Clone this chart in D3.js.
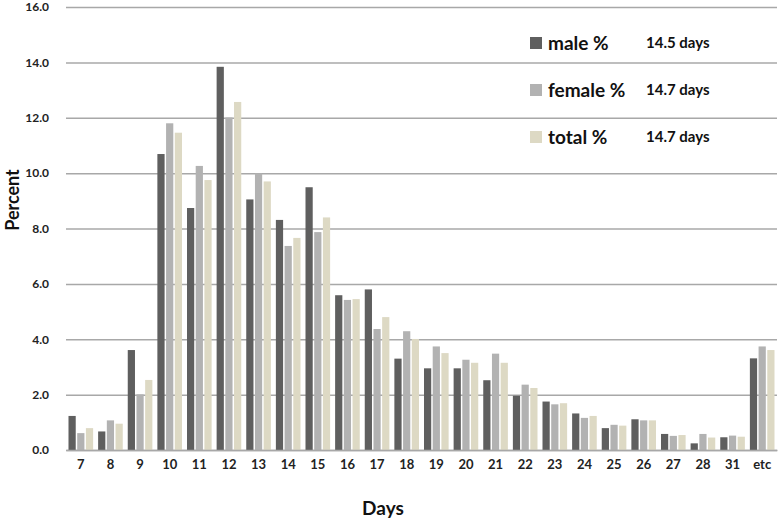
<!DOCTYPE html>
<html><head><meta charset="utf-8">
<script src="https://cdn.jsdelivr.net/npm/d3@7"></script>
<style>
html,body{margin:0;padding:0;background:#fff;}
svg{display:block;font-family:Lato,"Open Sans",sans-serif;}
</style></head>
<body><svg id="c" width="781" height="520"></svg>
<script>
const categories = ["7","8","9","10","11","12","13","14","15","16","17","18","19","20","21","22","23","24","25","26","27","28","31","etc"];
const male   = [1.23,0.67,3.61,10.69,8.74,13.84,9.05,8.31,9.49,5.59,5.80,3.30,2.95,2.95,2.52,1.96,1.75,1.32,0.79,1.11,0.58,0.24,0.46,3.31];
const female = [0.61,1.07,2.01,11.80,10.26,12.01,9.99,7.37,7.87,5.42,4.37,4.29,3.74,3.26,3.48,2.36,1.65,1.16,0.91,1.07,0.51,0.58,0.52,3.74];
const total  = [0.79,0.95,2.53,11.46,9.75,12.57,9.70,7.66,8.40,5.45,4.80,4.01,3.50,3.15,3.15,2.24,1.69,1.23,0.88,1.07,0.54,0.45,0.48,3.61];
const seriesNames = ["male %","female %","total %"];
const averages = ["14.5 days","14.7 days","14.7 days"];
const yTicks = [0,2,4,6,8,10,12,14,16];
const colors = ["#5f5f5f","#b2b2b2","#ddd9c4"];

const seriesValues = [male, female, total];
const svg = d3.select("#c");
const L = 66, R = 777, T = 7, B = 450;

const x = d3.scaleBand().domain(categories).range([L, R]).padding(0);
const xi = d3.scaleBand().domain(seriesNames).range([2.5, x.bandwidth() - 2.5]).paddingInner(0.17);
const y = d3.scaleLinear().domain([0, 16]).range([B, T]);

// gridlines
const grid = svg.append("g").attr("transform", `translate(${L},0)`)
  .call(d3.axisLeft(y).tickValues(yTicks).tickSize(-(R - L)).tickFormat(""));
grid.select(".domain").remove();
grid.selectAll("line").attr("stroke", "#a8a8a8").attr("stroke-width", 1.5);

// y labels
const ya = svg.append("g").attr("transform", `translate(${L},0)`)
  .call(d3.axisLeft(y).tickValues(yTicks).tickSize(0).tickPadding(17).tickFormat(d3.format(".1f")));
ya.select(".domain").remove();
ya.selectAll("text").attr("font-family", "Lato, sans-serif").attr("font-weight", "bold")
  .attr("font-size", 12).attr("fill", "#222");

// bars
const rows = categories.map((c, i) => ({c, vals: seriesNames.map((s, k) => ({s, k, v: seriesValues[k][i]}))}));
const g = svg.append("g").selectAll("g").data(rows).join("g")
  .attr("transform", d => `translate(${x(d.c)},0)`);
g.selectAll("rect").data(d => d.vals).join("rect")
  .attr("x", d => xi(d.s)).attr("width", xi.bandwidth())
  .attr("y", d => y(d.v)).attr("height", d => y(0) - y(d.v))
  .attr("fill", d => colors[d.k]);

// x axis
const xa = svg.append("g").attr("transform", `translate(0,${B})`)
  .call(d3.axisBottom(x).tickSize(0).tickPadding(10));
xa.select(".domain").attr("stroke", "#a8a8a8").attr("stroke-width", 1.5);
xa.selectAll("text").attr("font-family", "Lato, sans-serif").attr("font-weight", "bold")
  .attr("font-size", 13).attr("fill", "#222");

// axis titles
svg.append("text").attr("transform", `translate(19,200) rotate(-90)`)
  .attr("text-anchor", "middle").attr("font-weight", "bold").attr("font-size", 18)
  .attr("fill", "#111").text("Percent");
svg.append("text").attr("x", 383).attr("y", 515)
  .attr("text-anchor", "middle").attr("font-weight", "bold").attr("font-size", 19)
  .attr("fill", "#111").text("Days");

// legend
const leg = svg.append("g").selectAll("g").data(seriesNames).join("g")
  .attr("transform", (d, i) => `translate(530,${43 + i * 47})`);
leg.append("rect").attr("x", 0).attr("y", -6).attr("width", 12).attr("height", 12)
  .attr("fill", (d, i) => colors[i]);
leg.append("text").attr("x", 18).attr("y", 0).attr("dy", "0.35em")
  .attr("font-weight", "bold").attr("font-size", 19).attr("fill", "#111").text(d => d);
leg.append("text").attr("x", 116).attr("y", 0).attr("dy", "0.35em")
  .attr("font-weight", "bold").attr("font-size", 15).attr("fill", "#111").text((d, i) => averages[i]);
</script></body></html>
